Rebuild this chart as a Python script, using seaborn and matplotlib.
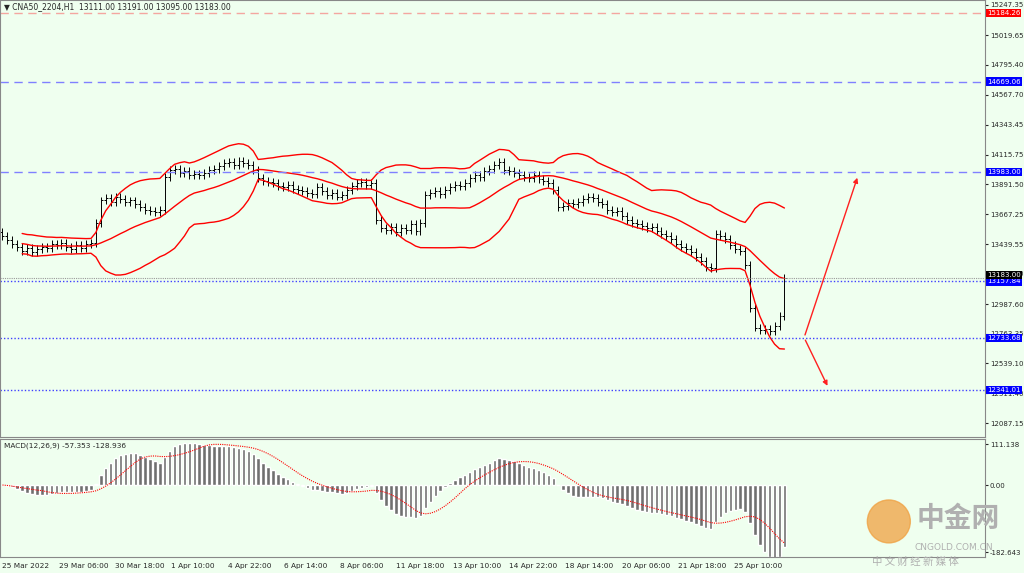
import numpy as np
import pandas as pd
import matplotlib
matplotlib.use("Agg")
import matplotlib.pyplot as plt
from matplotlib.patches import Ellipse
import seaborn as sns

closes = [13500,13470,13440,13420,13390,13410,13380,13400,13420,13410,
          13440,13430,13450,13420,13400,13430,13410,13440,13450,13600,
          13770,13790,13760,13800,13780,13760,13770,13740,13720,13700,
          13690,13680,13700,13950,14000,14010,13980,13990,13960,13970,
          13960,13980,14000,14010,14030,14050,14060,14040,14070,14050,
          14040,14000,13940,13920,13910,13900,13880,13870,13890,13860,
          13850,13840,13830,13820,13870,13840,13810,13830,13800,13810,
          13850,13880,13900,13910,13890,13900,13620,13560,13550,13570,
          13530,13560,13550,13590,13540,13600,13810,13830,13840,13820,
          13850,13870,13890,13880,13900,13940,13960,13950,13990,14010,
          14040,14060,14000,13990,13980,13960,13950,13940,13960,13930,
          13920,13900,13850,13720,13730,13750,13740,13760,13780,13800,
          13790,13760,13740,13700,13680,13690,13650,13620,13600,13590,
          13580,13560,13570,13540,13520,13500,13480,13440,13420,13400,
          13380,13340,13310,13270,13260,13520,13500,13480,13430,13400,
          13390,13280,12960,12810,12790,12800,12780,12820,12900,13183]
first_open = 13530
wick = 30
date_labels = ["25 Mar 2022","29 Mar 06:00","30 Mar 18:00","1 Apr 10:00","4 Apr 22:00",
               "6 Apr 14:00","8 Apr 06:00","11 Apr 18:00","13 Apr 10:00","14 Apr 22:00",
               "18 Apr 14:00","20 Apr 06:00","21 Apr 18:00","25 Apr 10:00"]
price_ticks = [15247.35,15019.65,14795.40,14567.70,14343.45,14115.75,13891.50,13667.25,
               13439.55,13215.30,12987.60,12763.35,12539.10,12311.40,12087.15]
level_lines = [(15184.26,"#f4a6a0",(0,(6,4)),"#ff0000"),(14669.06,"#8080ff",(0,(6,4)),"#0000ff"),
               (13983.00,"#8080ff",(0,(6,4)),"#0000ff"),(13157.84,"#4040ff",(0,(1,1.5)),"#0000ff"),
               (12733.68,"#4040ff",(0,(1,1.5)),"#0000ff"),(12341.01,"#4040ff",(0,(1,1.5)),"#0000ff")]
last_price = 13183.00
arrow_start = (163, 12733.68)
arrow_up = (174, 13962)
arrow_down = (168, 12350)
macd_ticks = [111.138, 0.00, -182.643]

sns.set_style("white")
plt.rcParams['font.family'] = ['DejaVu Sans']
bg = "#efffef"
fig = plt.figure(figsize=(10.24,5.73), dpi=100, facecolor=bg)
ax = fig.add_axes([0.0,0.237,0.962,0.763], facecolor=bg)
ax2 = fig.add_axes([0.0,0.028,0.962,0.206], facecolor=bg)

c = np.array(closes, float)
o = np.concatenate([[first_open], c[:-1]])
h = np.maximum(o,c)+wick
l = np.minimum(o,c)-wick
n = len(c)
idx = np.arange(n)
ax.vlines(idx, l, h, color="black", lw=0.7)
ax.hlines(o, idx-0.4, idx, color="black", lw=0.7)
ax.hlines(c, idx, idx+0.4, color="black", lw=0.7)

s = pd.Series(c)
mid = s.rolling(20, min_periods=5).mean()
sd = s.rolling(20, min_periods=5).std(ddof=0)
df = pd.DataFrame({"i":idx,"mid":mid,"up":mid+2*sd,"lo":mid-2*sd})
for col in ["mid","up","lo"]:
    sns.lineplot(data=df, x="i", y=col, ax=ax, color="red", lw=1)

xmax = 199.8
fs = 5.0
for val, col, ls, box in level_lines:
    ax.axhline(val, color=col, ls=ls, lw=1)
    ax.text(1.002, val, f"{val:.2f}", transform=ax.get_yaxis_transform(), va="center", ha="left",
            fontsize=fs, color="white", bbox=dict(boxstyle="square,pad=0.15", fc=box, ec="none"))
ax.axhline(last_price, color="#999999", ls=(0,(1,1)), lw=0.8)
ax.text(1.002, last_price+24, f"{last_price:.2f}", transform=ax.get_yaxis_transform(), va="center",
        ha="left", fontsize=fs, color="white", bbox=dict(boxstyle="square,pad=0.1", fc="black", ec="none"))
for end in (arrow_up, arrow_down):
    ax.annotate("", xy=end, xytext=arrow_start,
                arrowprops=dict(arrowstyle="-|>", color="#ff2020", lw=1, mutation_scale=7))
ax.set_xlim(-0.5, xmax)
ax.set_ylim(11981, 15285)
ax.yaxis.tick_right()
ax.set_yticks(price_ticks)
ax.set_yticklabels([f"{t:.2f}" for t in price_ticks], fontsize=fs)
ax.tick_params(axis="y", length=2, pad=1.5)
ax.set_xticks([])
ax.set_xlabel(""); ax.set_ylabel("")
ax.text(0.004, 0.995, "▼ CNA50_2204,H1  13111.00 13191.00 13095.00 13183.00", transform=ax.transAxes,
        fontsize=5.5, va="top")
for sp in ax.spines.values():
    sp.set_color("#888888")

ema12 = s.ewm(span=12, adjust=False).mean()
ema26 = s.ewm(span=26, adjust=False).mean()
macd = ema12-ema26
sig = macd.rolling(9, min_periods=1).mean()
ax2.bar(idx, macd, width=0.7, color="#707070")
ax2.plot(idx, sig, color="red", ls=(0,(1,1)), lw=0.8)
ax2.set_xlim(-0.5, xmax)
ax2.set_ylim(-195, 125)
ax2.yaxis.tick_right()
ax2.set_yticks(macd_ticks)
ax2.set_yticklabels(["111.138","0.00","-182.643"], fontsize=fs)
ax2.tick_params(axis="y", length=2, pad=1.5)
ax2.text(0.004, 0.97, "MACD(12,26,9) -57.353 -128.936", transform=ax2.transAxes, fontsize=5.3, va="top")
tick_pos = np.arange(len(date_labels))*(n/ (len(date_labels)-0.3))*0.98
ax2.set_xticks(tick_pos)
ax2.set_xticklabels(date_labels, fontsize=5.3, ha="left")
ax2.tick_params(axis="x", length=2, pad=2)
for sp in ax2.spines.values():
    sp.set_color("#888888")

logo = Ellipse((0.868,0.09), 0.042, 0.075, transform=fig.transFigure, color="#f0a040", alpha=0.75)
fig.patches.append(logo)
fig.text(0.895, 0.095, "中金网", fontsize=20, color="#b0b0b0", family=["Noto Sans CJK SC"],
         fontweight="bold", va="center")
fig.text(0.893, 0.045, "CNGOLD.COM.CN", fontsize=6.5, color="#b0b0b0", va="center")
fig.text(0.852, 0.02, "中 文 财 经 新 媒 体", fontsize=7.5, color="#b0b0b0",
         family=["Noto Sans CJK SC"], va="center")
fig.savefig("out.png", dpi=100, facecolor=bg)
